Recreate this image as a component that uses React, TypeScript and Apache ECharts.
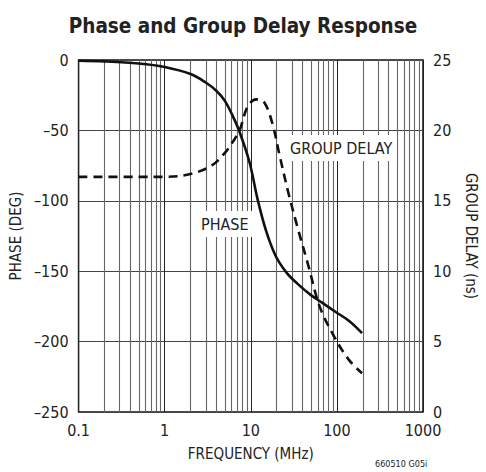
import React, { useEffect, useRef } from "react";
import * as echarts from "echarts";

const phaseFreq = [0.1, 0.2, 0.5, 1, 2, 3, 4, 5, 6.2, 7.4, 9.7, 12, 15, 19.4, 26, 35, 50, 66, 97, 140, 196];
const phaseDeg = [-0.5, -1, -2.5, -5, -10, -16, -22, -29, -40, -51, -73, -99, -121, -139, -151, -159, -167, -172, -179, -185.5, -194];

const delayFreq = [0.1, 0.5, 1, 2, 3.5, 5, 6.2, 7.4, 9.2, 11.5, 14.3, 17.8, 21.3, 27.5, 35.7, 46.6, 63, 93, 138, 196];
const delayNs = [16.7, 16.7, 16.7, 16.9, 17.5, 18.4, 19.2, 20, 21.7, 22.2, 22, 20.5, 18.4, 15.5, 12.9, 10.4, 7.5, 5.35, 3.7, 2.75];

const minorFreqs = [
  0.2, 0.3, 0.4, 0.5, 0.6, 0.7, 0.8, 0.9,
  2, 3, 4, 5, 6, 7, 8, 9,
  20, 30, 40, 50, 60, 70, 80, 90,
  200, 300, 400, 500, 600, 700, 800, 900,
];

const FONT = "'Liberation Sans Narrow', 'DejaVu Sans Condensed', 'Arial Narrow', 'Liberation Sans', sans-serif";

export default function App() {
  const ref = useRef<HTMLDivElement>(null);
  useEffect(() => {
    if (!ref.current) return;
    const chart = echarts.init(ref.current, undefined, { renderer: "svg" });
    const fmt = (v: number) => (v < 0 ? "\u2013" + Math.abs(v) : String(v));
    chart.setOption({
      animation: false,
      backgroundColor: "#fff",
      textStyle: { fontFamily: FONT, color: "#222" },
      title: {
        text: "Phase and Group Delay Response",
        left: "center",
        top: 10,
        textStyle: { fontFamily: FONT, fontSize: 20.5, fontWeight: "bold", color: "#222" },
      },
      grid: {
        left: 77, right: 57, top: 60, bottom: 60,
        show: true, borderColor: "#111", borderWidth: 1.5, backgroundColor: "transparent",
      },
      xAxis: {
        type: "log", logBase: 10, min: 0.1, max: 1000,
        name: "FREQUENCY (MHz)", nameLocation: "middle", nameGap: 34,
        nameTextStyle: { fontFamily: FONT, fontSize: 15, color: "#222" },
        axisLine: { show: false }, axisTick: { show: false },
        axisLabel: { fontFamily: FONT, fontSize: 16, color: "#222", margin: 10,
          formatter: (v: number) => (v < 1 ? v.toFixed(1) : String(Math.round(v))) },
        splitLine: { show: true, lineStyle: { color: "#222", width: 1 } },
      },
      yAxis: [
        {
          type: "value", min: -250, max: 0, interval: 50,
          name: "PHASE (DEG)", nameLocation: "middle", nameGap: 52, nameRotate: 90,
          nameTextStyle: { fontFamily: FONT, fontSize: 15, color: "#222" },
          axisLine: { show: false }, axisTick: { show: false },
          axisLabel: { fontFamily: FONT, fontSize: 16, color: "#222", margin: 10, formatter: fmt },
          splitLine: { show: true, lineStyle: { color: "#444", width: 1.2 } },
        },
        {
          type: "value", min: 0, max: 25, interval: 5, position: "right",
          name: "GROUP DELAY (ns)", nameLocation: "middle", nameGap: 40, nameRotate: -90,
          nameTextStyle: { fontFamily: FONT, fontSize: 15, color: "#222" },
          axisLine: { show: false }, axisTick: { show: false },
          axisLabel: { fontFamily: FONT, fontSize: 16, color: "#222", margin: 10 },
          splitLine: { show: false },
        },
      ],
      graphic: [
        {
          type: "text", left: 197, top: 211, z: 100,
          style: { text: "PHASE", fontFamily: FONT, fontSize: 16, fill: "#222",
            backgroundColor: "#fff", padding: [5, 4, 5, 4] },
        },
        {
          type: "text", left: 286, top: 135, z: 100,
          style: { text: "GROUP DELAY", fontFamily: FONT, fontSize: 16, fill: "#222",
            backgroundColor: "#fff", padding: [5, 4, 5, 4] },
        },
        {
          type: "text", left: 375, top: 459,
          style: { text: "660510 G05i", fontFamily: FONT, fontSize: 9, fill: "#222" },
        },
      ],
      series: [
        {
          type: "line", data: [], z: 1, silent: true,
          markLine: {
            silent: true, symbol: ["none", "none"], label: { show: false },
            lineStyle: { color: "#666", width: 1.1, type: "solid" },
            data: minorFreqs.map((f) => ({ xAxis: f })),
          },
        },
        {
          name: "PHASE", type: "line", yAxisIndex: 0, smooth: 0.35, showSymbol: false, z: 5,
          data: phaseFreq.map((f, i) => [f, phaseDeg[i]]),
          lineStyle: { color: "#111", width: 2.6, type: "solid" },
        },
        {
          name: "GROUP DELAY", type: "line", yAxisIndex: 1, smooth: 0.35, showSymbol: false, z: 5,
          data: delayFreq.map((f, i) => [f, delayNs[i]]),
          lineStyle: { color: "#111", width: 2.6, type: [9, 6] },
        },
      ],
    });
    return () => chart.dispose();
  }, []);
  return <div ref={ref} style={{ width: 486, height: 472, position: "absolute", left: 0, top: 0 }} />;
}
